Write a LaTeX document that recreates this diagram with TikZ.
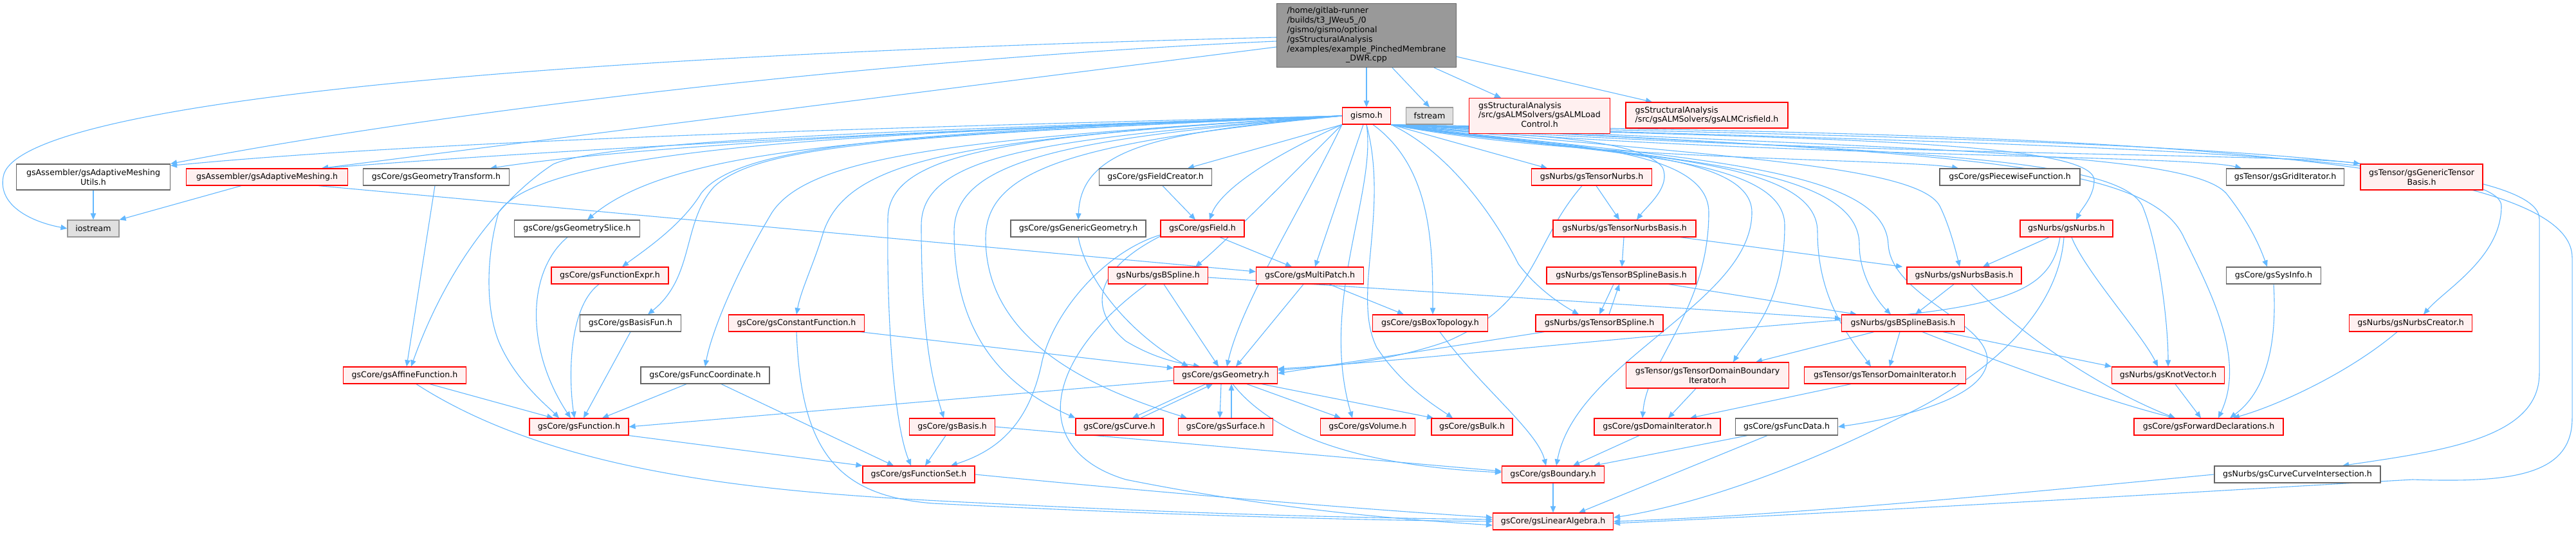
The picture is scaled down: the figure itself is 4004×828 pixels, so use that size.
\documentclass[tikz,border=0pt]{standalone}
\usepackage{fontspec}
\setmainfont{DejaVu Sans}
\usetikzlibrary{arrows.meta,calc}
\pgfdeclarelayer{bg}
\pgfsetlayers{bg,main}
\definecolor{edgec}{HTML}{63B8FF}
\definecolor{redfill}{HTML}{FFF0F0}
\definecolor{redline}{HTML}{FF0000}
\definecolor{grayline}{HTML}{666666}
\definecolor{lgrayline}{HTML}{999999}
\definecolor{gfill}{HTML}{E0E0E0}
\definecolor{mfill}{HTML}{999999}
\tikzset{
  bw/.style={minimum width=#1*0.5pt},
  bh/.style={minimum height=#1*0.5pt},
  basebox/.style={rectangle, inner sep=0pt, line width=0.6pt, minimum height=13pt, text=black},
  redbox/.style={basebox, draw=redline, fill=redfill},
  whitebox/.style={basebox, draw=grayline, fill=white},
  graybox/.style={basebox, draw=lgrayline, fill=gfill},
  mainbox/.style={basebox, draw=grayline, fill=mfill},
  dep/.style={draw=edgec, line width=0.55pt, -{Triangle[length=5pt,width=4.2pt]}}
}
\begin{document}
\begin{tikzpicture}[x=0.5pt,y=-0.5pt,font=\fontsize{6.3pt}{7.4pt}\selectfont]
\useasboundingbox (0,0) rectangle (4004,828);
\begin{pgfonlayer}{bg}
\fill[white] (0,0) rectangle (4004,828);
\end{pgfonlayer}
% nodes
\node[mainbox,bw=279,bh=99] (M) at (2124,55) {\begin{tabular}{@{}l@{}}/home/gitlab-runner\\/builds/t3\_JWeu5\_/0\\/gismo/gismo/optional\\/gsStructuralAnalysis\\/examples/example\_PinchedMembrane\\\multicolumn{1}{@{}c@{}}{\_DWR.cpp}\end{tabular}};
\node[redbox,bw=75] (G) at (2124,180) {gismo.h};
\node[graybox,bw=73] (fst) at (2222,180) {fstream};
\node[redbox,bw=219,bh=55] (almL) at (2393,180) {\begin{tabular}{@{}l@{}}gsStructuralAnalysis\\/src/gsALMSolvers/gsALMLoad\\\multicolumn{1}{@{}c@{}}{Control.h}\end{tabular}};
\node[redbox,bw=252,bh=40,align=left] (almC) at (2653,179) {gsStructuralAnalysis\\/src/gsALMSolvers/gsALMCrisfield.h};
\node[whitebox,bw=239,bh=40,align=center] (utl) at (145,275) {gsAssembler/gsAdaptiveMeshing\\Utils.h};
\node[redbox,bw=251] (amsh) at (415,275) {gsAssembler/gsAdaptiveMeshing.h};
\node[whitebox,bw=227] (gtr) at (678,275) {gsCore/gsGeometryTransform.h};
\node[whitebox,bw=175] (fcr) at (1796,275) {gsCore/gsFieldCreator.h};
\node[redbox,bw=187] (tnrb) at (2474,275) {gsNurbs/gsTensorNurbs.h};
\node[whitebox,bw=218] (pwf) at (3124,275) {gsCore/gsPiecewiseFunction.h};
\node[whitebox,bw=183] (grid) at (3552,275) {gsTensor/gsGridIterator.h};
\node[redbox,bw=190,bh=40,align=center] (gtb) at (3764,275) {gsTensor/gsGenericTensor\\Basis.h};
\node[graybox,bw=80] (ios) at (145,355) {iostream};
\node[whitebox,bw=195] (gsl) at (897,355) {gsCore/gsGeometrySlice.h};
\node[whitebox,bw=210] (ggeo) at (1676,355) {gsCore/gsGenericGeometry.h};
\node[redbox,bw=130] (fld) at (1869,355) {gsCore/gsField.h};
\node[redbox,bw=222] (tnrbb) at (2525,355) {gsNurbs/gsTensorNurbsBasis.h};
\node[redbox,bw=144] (nrb) at (3212,355) {gsNurbs/gsNurbs.h};
\node[redbox,bw=182] (fex) at (948,428) {gsCore/gsFunctionExpr.h};
\node[redbox,bw=155] (bsp) at (1800,428) {gsNurbs/gsBSpline.h};
\node[redbox,bw=167] (mp) at (2036,428) {gsCore/gsMultiPatch.h};
\node[redbox,bw=232] (tbsb) at (2520,428) {gsNurbs/gsTensorBSplineBasis.h};
\node[redbox,bw=178] (nrbb) at (3053,428) {gsNurbs/gsNurbsBasis.h};
\node[whitebox,bw=147] (sys) at (3534,428) {gsCore/gsSysInfo.h};
\node[whitebox,bw=157] (bfun) at (980,502) {gsCore/gsBasisFun.h};
\node[redbox,bw=211] (cfun) at (1238,502) {gsCore/gsConstantFunction.h};
\node[redbox,bw=179] (box) at (2223,502) {gsCore/gsBoxTopology.h};
\node[redbox,bw=198] (tbs) at (2486,502) {gsNurbs/gsTensorBSpline.h};
\node[redbox,bw=191] (bsb) at (2958,502) {gsNurbs/gsBSplineBasis.h};
\node[redbox,bw=191] (ncr) at (3747,502) {gsNurbs/gsNurbsCreator.h};
\node[redbox,bw=191] (aff) at (629,583) {gsCore/gsAffineFunction.h};
\node[whitebox,bw=200] (fco) at (1096,583) {gsCore/gsFuncCoordinate.h};
\node[redbox,bw=161] (geo) at (1905,583) {gsCore/gsGeometry.h};
\node[redbox,bw=253,bh=40,align=center] (tdbi) at (2654,583) {gsTensor/gsTensorDomainBoundary\\Iterator.h};
\node[redbox,bw=251] (tdi) at (2930,583) {gsTensor/gsTensorDomainIterator.h};
\node[redbox,bw=175] (kv) at (3370,583) {gsNurbs/gsKnotVector.h};
\node[redbox,bw=154] (fun) at (900,663) {gsCore/gsFunction.h};
\node[redbox,bw=133] (bas) at (1480,663) {gsCore/gsBasis.h};
\node[redbox,bw=136] (crv) at (1740,663) {gsCore/gsCurve.h};
\node[redbox,bw=147] (srf) at (1905,663) {gsCore/gsSurface.h};
\node[redbox,bw=147] (vol) at (2126,663) {gsCore/gsVolume.h};
\node[redbox,bw=126] (blk) at (2288,663) {gsCore/gsBulk.h};
\node[redbox,bw=196] (dit) at (2576,663) {gsCore/gsDomainIterator.h};
\node[whitebox,bw=159] (fdat) at (2777,663) {gsCore/gsFuncData.h};
\node[redbox,bw=232] (fwd) at (3433,663) {gsCore/gsForwardDeclarations.h};
\node[redbox,bw=174] (fset) at (1428,737) {gsCore/gsFunctionSet.h};
\node[redbox,bw=159] (bnd) at (2414,737) {gsCore/gsBoundary.h};
\node[whitebox,bw=258] (cci) at (3571,737) {gsNurbs/gsCurveCurveIntersection.h};
\node[redbox,bw=187] (la) at (2414,810) {gsCore/gsLinearAlgebra.h};
% edges
\begin{pgfonlayer}{bg}
% from main file
\draw[dep] ($(M.west)+(0,3)$) .. controls (700,90) and (20,170) .. (5,275) .. controls (-3,320) and (50,345) .. (ios.west);
\draw[dep] ($(M.west)+(0,9)$) .. controls (1400,90) and (700,170) .. (utl.north east);
\draw[dep] ($(M.west)+(0,18)$) -- ($(amsh.north)+(85,0)$);
\draw[dep] (M) -- (G);
\draw[dep] ($(M.south)+(40,0)$) -- (fst.north);
\draw[dep] ($(M.south)+(105,0)$) -- ($(almL.north)+(-60,0)$);
\draw[dep] ($(M.east)+(0,33)$) -- ($(almC.north)+(-85,0)$);
% gismo.h to the left
\draw[dep] (G.west) .. controls (1500,195) and (700,215) .. ($(utl.north east)+(0,3)$);
\draw[dep] (G.west) .. controls (1500,200) and (900,230) .. ($(amsh.north)+(85,0)$);
\draw[dep] (G.west) .. controls (1500,200) and (1000,225) .. ($(gtr.north)+(84,0)$);
\draw[dep] (G.west) .. controls (1500,200) and (950,215) .. (860,255) .. controls (790,300) and (700,400) .. ($(aff.north)+(10,0)$);
\draw[dep] (G.west) .. controls (1500,205) and (850,215) .. (775,330) .. controls (755,400) and (755,480) .. (775,530) .. controls (800,590) and (850,630) .. ($(fun.north)+(-31,0)$);
\draw[dep] (G.west) .. controls (1400,210) and (1050,225) .. ($(gsl.north)+(16,0)$);
\draw[dep] (G.west) .. controls (1400,205) and (1150,225) .. (1090,300) .. controls (1060,350) and (1000,390) .. ($(fex.north)+(19,0)$);
\draw[dep] (G.west) .. controls (1400,210) and (1180,225) .. (1110,290) .. controls (1060,345) and (1080,430) .. ($(bfun.north)+(27,0)$);
\draw[dep] (G.west) .. controls (1500,215) and (1320,245) .. (1280,360) .. controls (1265,410) and (1245,450) .. (cfun.north);
\draw[dep] (G.west) .. controls (1500,215) and (1260,240) .. (1200,330) .. controls (1140,430) and (1105,520) .. (fco.north);
\draw[dep] (G.west) .. controls (1600,210) and (1380,230) .. (1380,340) .. controls (1378,500) and (1390,660) .. ($(fset.north)+(-12,0)$);
\draw[dep] (G.west) .. controls (1620,215) and (1432,240) .. (1432,350) .. controls (1432,500) and (1445,580) .. ($(bas.north)+(-13,0)$);
\draw[dep] (G.west) .. controls (1650,215) and (1483,250) .. (1483,360) .. controls (1483,520) and (1560,600) .. (crv.north west);
\draw[dep] (G.west) .. controls (1680,220) and (1532,260) .. (1532,370) .. controls (1532,540) and (1720,610) .. ($(srf.north)+(-60,0)$);
\draw[dep] (G.west) .. controls (1800,205) and (1680,230) .. (ggeo.north);
\draw[dep] (G.south west) -- ($(fcr.north)+(50,0)$);
\draw[dep] (G.south west) .. controls (1960,250) and (1895,300) .. ($(fld.north)+(11,0)$);
\draw[dep] (G.south west) .. controls (2000,280) and (1900,380) .. ($(bsp.north)+(58,0)$);
\draw[dep] ($(G.south)+(-5,0)$) -- ($(mp.north)+(8,0)$);
\draw[dep] (G.south west) .. controls (2020,330) and (1930,470) .. ($(geo.north)+(2,0)$);
\draw[dep] (G.south) .. controls (2140,300) and (2050,470) .. ($(vol.north)+(-24,0)$);
\draw[dep] (G.south) .. controls (2160,330) and (2100,460) .. (2140,540) .. controls (2180,600) and (2230,630) .. ($(blk.north)+(-30,0)$);
\draw[dep] ($(G.south)+(10,0)$) .. controls (2225,260) and (2227,380) .. ($(box.north)+(4,0)$);
% gismo.h to the right
\draw[dep] (G.south east) .. controls (2260,240) and (2330,350) .. (2360,410) .. controls (2390,450) and (2430,475) .. ($(tbs.north)+(-32,0)$);
\draw[dep] (G.south east) -- ($(tnrb.north)+(-69,0)$);
\draw[dep] (G.south east) .. controls (2300,212) and (2540,205) .. (2584,260) .. controls (2598,290) and (2560,320) .. ($(tnrbb.north)+(19,0)$);
\draw[dep] (G.south east) .. controls (2350,226) and (2656,215) .. (2656,330) .. controls (2656,480) and (2560,560) .. ($(dit.north)+(-23,0)$);
\draw[dep] (G.south east) .. controls (2400,236) and (2723,225) .. (2723,330) .. controls (2723,470) and (2450,560) .. ($(bnd.north)+(5,0)$);
\draw[dep] (G.south east) .. controls (2450,240) and (2774,235) .. (2774,350) .. controls (2774,470) and (2720,520) .. ($(tdbi.north)+(40,0)$);
\draw[dep] (G.south east) .. controls (2500,243) and (2825,240) .. (2825,360) .. controls (2825,470) and (2880,530) .. ($(tdi.north)+(-22,0)$);
\draw[dep] (G.south east) .. controls (2550,246) and (2890,250) .. (2890,380) .. controls (2890,430) and (2920,470) .. ($(bsb.north)+(-19,0)$);
\draw[dep] (G.south east) .. controls (2600,246) and (2930,255) .. (2935,380) .. controls (2940,460) and (3090,500) .. (3089,560) .. controls (3085,620) and (2950,650) .. (fdat.east);
\draw[dep] (G.south east) .. controls (2650,242) and (2980,255) .. (3015,320) .. controls (3030,350) and (3040,390) .. ($(nrbb.north)+(-7,0)$);
\draw[dep] (G.south east) .. controls (2450,250) and (2950,246) .. ($(pwf.north)+(-80,0)$);
\draw[dep] (G.south east) .. controls (2700,244) and (3400,240) .. ($(grid.north)+(-68,0)$);
\draw[dep] (G.south east) .. controls (2800,242) and (3550,238) .. (gtb.north west);
\draw[dep] (G.south east) .. controls (2700,216) and (3255,212) .. (3255,280) .. controls (3255,305) and (3235,325) .. ($(nrb.north)+(15,0)$);
\draw[dep] (G.south east) .. controls (2900,236) and (3290,238) .. (3330,320) .. controls (3355,380) and (3370,500) .. (kv.north);
\draw[dep] (G.south east) .. controls (3000,234) and (3400,236) .. (3460,300) .. controls (3500,350) and (3515,390) .. ($(sys.north)+(-10,0)$);
\draw[dep] (G.south east) .. controls (3000,238) and (3340,245) .. (3395,370) .. controls (3440,460) and (3490,560) .. ($(fwd.north)+(15,0)$);
\draw[dep] (G.south east) .. controls (3000,222) and (3888,230) .. (3888,320) .. controls (3888,400) and (3800,450) .. ($(ncr.north)+(20,0)$);
\draw[dep] (G.south east) .. controls (3000,215) and (3947,222) .. (3947,340) -- (3947,580) .. controls (3947,680) and (3800,700) .. ($(cci.north)+(70,0)$);
\draw[dep] (G.south east) .. controls (3000,208) and (3998,215) .. (3998,400) -- (3998,650) .. controls (3998,740) and (3900,750) .. (3750,745) .. controls (3400,765) and (2900,795) .. ($(la.east)+(0,3)$);
% other edges
\draw[dep] (utl) -- (ios);
\draw[dep] ($(amsh.south)+(-40,0)$) -- (ios.north east);
\draw[dep] ($(amsh.south)+(80,0)$) -- ($(mp.west)+(0,-6)$);
\draw[dep] ($(gtr.south)+(-2,0)$) -- ($(aff.north)+(3,0)$);
\draw[dep] ($(aff.south)+(39,0)$) -- ($(fun.north)+(-40,0)$);
\draw[dep] ($(aff.south)+(18,0)$) .. controls (900,760) and (1300,770) .. (1600,785) .. controls (1900,800) and (2150,805) .. ($(la.west)+(0,-3)$);
\draw[dep] ($(gsl.south)+(-15,0)$) .. controls (820,420) and (815,540) .. ($(fun.north)+(-13,0)$);
\draw[dep] ($(fex.south)+(-17,0)$) .. controls (880,480) and (885,600) .. ($(fun.north)+(-7,0)$);
\draw[dep] (bfun.south) -- ($(fun.north)+(7,0)$);
\draw[dep] ($(fco.south)+(-29,0)$) -- ($(fun.north)+(36,0)$);
\draw[dep] ($(fco.south)+(25,0)$) -- ($(fset.north)+(-39,0)$);
\draw[dep] ($(cfun.south east)+(-7,0)$) -- ($(geo.west)+(0,-11)$);
\draw[dep] (cfun.south) .. controls (1245,700) and (1300,770) .. (1450,782) .. controls (1800,800) and (2100,808) .. (la.west);
\draw[dep] ($(geo.west)+(0,8)$) -- (fun.east);
\draw[dep] (fun.south east) -- (fset.north west);
\draw[dep] ($(bas.south)+(-10,0)$) -- ($(fset.north)+(10,0)$);
\draw[dep] (bas.east) -- ($(bnd.west)+(0,-5)$);
\draw[dep] (fset.east) .. controls (1800,765) and (2100,790) .. ($(la.west)+(0,-6)$);
\draw[dep] ($(bsp.south)+(-18,0)$) .. controls (1620,560) and (1600,700) .. (1750,745) .. controls (2000,795) and (2200,808) .. ($(la.west)+(0,6)$);
\draw[dep] ($(bsp.south)+(9,0)$) -- ($(geo.north)+(-11,0)$);
\draw[dep] ($(bsp.east)+(0,3)$) -- ($(bsb.west)+(0,-7)$);
\draw[dep] ($(fcr.south)+(11,0)$) -- ($(fld.north)+(-11,0)$);
\draw[dep] ($(fld.west)+(0,10)$) .. controls (1720,390) and (1640,480) .. (1620,560) .. controls (1600,660) and (1550,700) .. ($(fset.north)+(50,0)$);
\draw[dep] ($(fld.west)+(0,12)$) .. controls (1700,420) and (1690,480) .. (1750,530) .. controls (1800,560) and (1840,565) .. ($(geo.north)+(-40,0)$);
\draw[dep] ($(fld.south)+(27,0)$) -- ($(mp.north)+(-28,0)$);
\draw[dep] (ggeo.south) .. controls (1690,440) and (1760,520) .. ($(geo.north)+(-58,0)$);
\draw[dep] ($(mp.south)+(-10,0)$) -- ($(geo.north)+(16,0)$);
\draw[dep] ($(mp.south)+(30,0)$) -- ($(box.north)+(-41,0)$);
\draw[dep] ($(geo.south)+(-31,0)$) -- ($(crv.north)+(20,0)$);
\draw[dep] ($(crv.north)+(33,0)$) -- ($(geo.south)+(-20,0)$);
\draw[dep] ($(geo.south)+(-7,0)$) -- ($(srf.north)+(-9,0)$);
\draw[dep] ($(srf.north)+(9,0)$) -- ($(geo.south)+(9,0)$);
\draw[dep] ($(geo.south)+(33,0)$) -- ($(vol.north)+(-42,0)$);
\draw[dep] ($(geo.south)+(56,0)$) -- ($(blk.north)+(-60,0)$);
\draw[dep] ($(geo.south)+(11,0)$) .. controls (1990,690) and (2150,725) .. ($(bnd.west)+(0,-3)$);
\draw[dep] ($(box.south)+(15,0)$) .. controls (2300,600) and (2390,670) .. ($(bnd.north)+(-11,0)$);
\draw[dep] (bnd) -- (la);
\draw[dep] ($(dit.south)+(-28,0)$) -- ($(bnd.north)+(31,0)$);
\draw[dep] ($(fdat.south)+(-61,0)$) -- ($(bnd.north east)+(-17,0)$);
\draw[dep] ($(fdat.south)+(-30,0)$) -- ($(la.north)+(40,0)$);
\draw[dep] ($(tnrb.south)+(7,0)$) -- ($(tnrbb.north)+(-8,0)$);
\draw[dep] ($(tnrb.south)+(-15,0)$) .. controls (2380,380) and (2390,470) .. (2250,530) .. controls (2150,565) and (2050,570) .. ($(geo.east)+(0,-8)$);
\draw[dep] ($(tnrbb.south)+(-1,0)$) -- ($(tbsb.north)+(1,0)$);
\draw[dep] ($(tnrbb.south east)+(-25,0)$) -- ($(nrbb.north)+(-96,0)$);
\draw[dep] ($(tbsb.south)+(-12,0)$) -- (tbs.north);
\draw[dep] ($(tbs.north)+(15,0)$) -- ($(tbsb.south)+(-3,0)$);
\draw[dep] ($(tbsb.south east)+(-43,0)$) -- ($(bsb.north)+(-72,0)$);
\draw[dep] ($(tbs.south west)+(14,0)$) -- ($(geo.east)+(0,-3)$);
\draw[dep] ($(bsb.south)+(-45,0)$) -- ($(tdbi.north)+(75,0)$);
\draw[dep] ($(bsb.south)+(-5,0)$) -- ($(tdi.north)+(7,0)$);
\draw[dep] ($(bsb.south)+(62,0)$) -- (kv.north west);
\draw[dep] ($(bsb.south)+(30,0)$) .. controls (3150,580) and (3300,630) .. ($(fwd.north)+(-52,0)$);
\draw[dep] ($(nrbb.south)+(-16,0)$) -- ($(bsb.north)+(19,0)$);
\draw[dep] ($(nrbb.south)+(11,0)$) .. controls (3150,530) and (3280,610) .. ($(fwd.north)+(-52,0)$);
\draw[dep] ($(nrb.south)+(-27,0)$) -- ($(nrbb.north)+(29,0)$);
\draw[dep] ($(nrb.south)+(8,0)$) .. controls (3240,420) and (3330,520) .. ($(kv.north)+(-16,0)$);
\draw[dep] ($(nrb.south)+(-10,0)$) .. controls (3190,440) and (3140,470) .. (2950,490) .. controls (2500,525) and (2200,560) .. ($(geo.east)+(0,-10)$);
\draw[dep] ($(nrb.south)+(-4,0)$) .. controls (3200,480) and (3100,580) .. (2950,650) .. controls (2750,750) and (2600,790) .. ($(la.east)+(0,-6)$);
\draw[dep] ($(kv.south)+(11,0)$) -- ($(fwd.north)+(-12,0)$);
\draw[dep] (sys.south) .. controls (3540,540) and (3520,610) .. ($(fwd.north)+(33,0)$);
\draw[dep] ($(ncr.south)+(-21,0)$) .. controls (3650,580) and (3540,630) .. ($(fwd.north)+(38,0)$);
\draw[dep] (cci.west) .. controls (3200,760) and (2800,800) .. (la.east);
\draw[dep] ($(tdbi.south)+(-18,0)$) -- ($(dit.north)+(17,0)$);
\draw[dep] ($(tdi.south)+(-53,0)$) -- ($(dit.north)+(51,0)$);
\end{pgfonlayer}
\end{tikzpicture}
\end{document}
